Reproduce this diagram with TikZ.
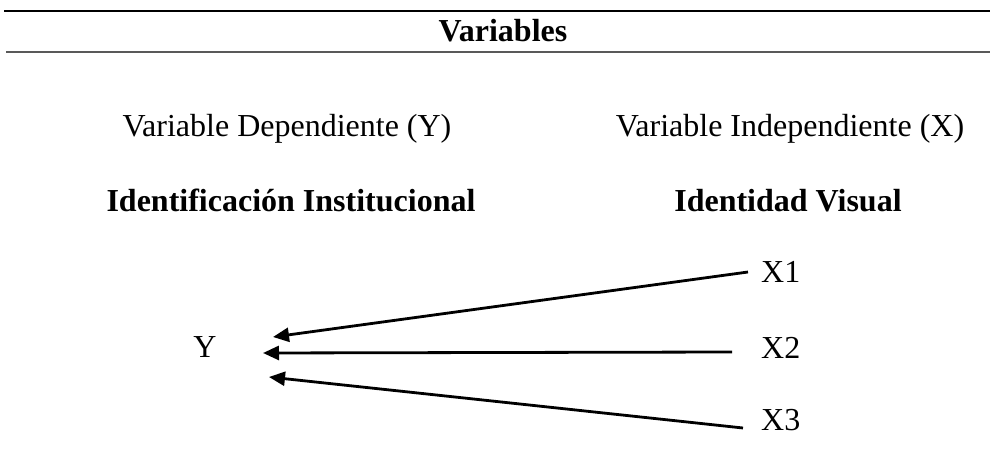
\documentclass[tikz,border=0pt]{standalone}
\usepackage{fontspec}
\setmainfont{Liberation Serif}
\usetikzlibrary{arrows.meta}
\begin{document}
\begin{tikzpicture}[x=1pt,y=-1pt,
  lbl/.style={inner sep=0pt,anchor=base,font=\fontsize{32}{38}\selectfont},
  hdr/.style={inner sep=0pt,anchor=base,font=\fontsize{32}{38}\selectfont\bfseries},
  rule/.style={line width=2pt},
  arr/.style={line width=2.8pt,-{Triangle[length=16pt,width=14pt]}}]
\useasboundingbox[fill=white] (0,0) rectangle (990,454);
\coordinate (t1) at (4,11);
\coordinate (t2) at (990,11);
\coordinate (b1) at (6,52);
\coordinate (b2) at (990,52);
\draw[rule] (t1) -- (t2);
\draw[line width=2.5pt,black!65] (b1) -- (b2);
\node[hdr] (title) at (503,42) {Variables};
\node[lbl] (dep) at (287,137) {Variable Dependiente (Y)};
\node[lbl] (indep) at (790,137) {Variable Independiente (X)};
\node[hdr] (ii) at (291,212) {Identificación Institucional};
\node[hdr] (iv) at (788,212) {Identidad Visual};
\node[lbl] (y) at (205,357) {Y};
\node[lbl,anchor=base west] (x1) at (761,283) {X1};
\node[lbl,anchor=base west] (x2) at (761,358) {X2};
\node[lbl,anchor=base west] (x3) at (761,430) {X3};
\coordinate (s1) at (748,272);
\coordinate (s2) at (732,352);
\coordinate (s3) at (743,428);
\coordinate (e1) at (273,337);
\coordinate (e2) at (263,353);
\coordinate (e3) at (269,377);
\draw[arr] (s1) -- (e1);
\draw[arr] (s2) -- (e2);
\draw[arr] (s3) -- (e3);
\end{tikzpicture}
\end{document}
